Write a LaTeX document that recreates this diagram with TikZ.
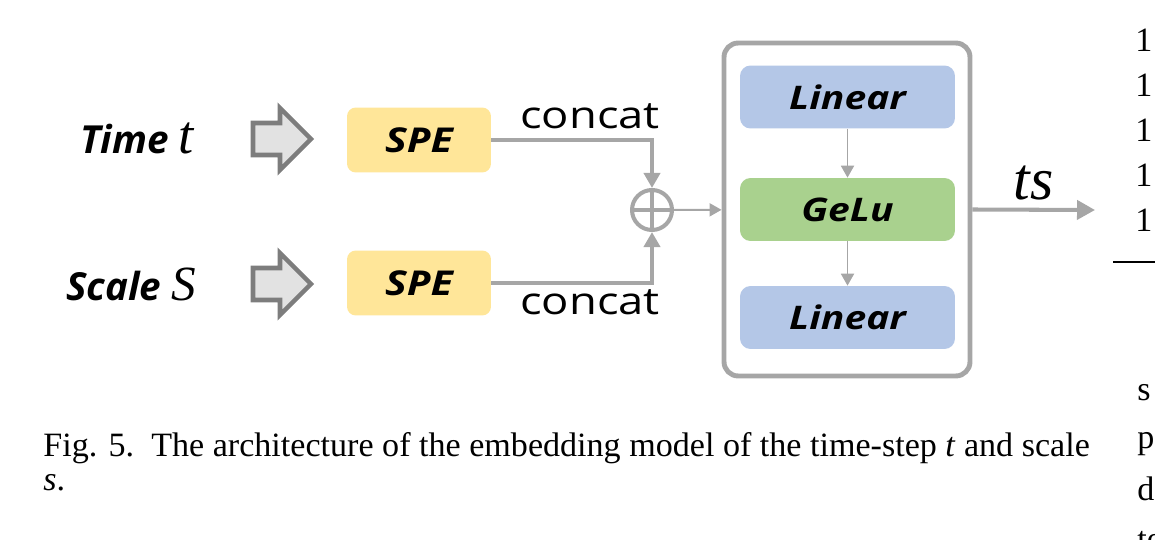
\documentclass[tikz,border=0pt]{standalone}
\usepackage{fontspec}
\setmainfont{Liberation Serif}
\setsansfont{Open Sans}
\newfontfamily\labfont{Open Sans}[FakeStretch=1.2]
\usetikzlibrary{arrows.meta, positioning, calc}
\definecolor{spefill}{RGB}{255,230,153}
\definecolor{linfill}{RGB}{180,199,231}
\definecolor{gelufill}{RGB}{169,209,142}
\definecolor{linegray}{RGB}{166,166,166}
\definecolor{arrowgray}{RGB}{125,125,125}
\definecolor{arrowfill}{RGB}{226,226,226}

\begin{document}
\begin{tikzpicture}[
  x=0.02cm, y=-0.02cm,
  inlabel/.style={font=\fontsize{22}{24}\selectfont\sffamily\bfseries\itshape},
  spebox/.style={fill=spefill, rounded corners=5pt, minimum width=2.88cm,
                 minimum height=1.3cm, inner sep=0pt,
                 font=\fontsize{19.5}{22}\selectfont\labfont\bfseries\itshape},
  layer/.style={rounded corners=6pt, minimum width=4.3cm,
                minimum height=1.26cm, inner sep=0pt,
                font=\fontsize{18.5}{22}\selectfont\labfont\bfseries\itshape},
  hollow/.style={draw=arrowgray, fill=arrowfill, line width=2.6pt,
                 line join=miter},
  wire/.style={draw=linegray, line width=2.3pt},
  thinarrow/.style={draw=linegray, line width=1.1pt,
                    -{Triangle[length=0.24cm, width=0.26cm]}},
  wlabel/.style={font=\fontsize{21.5}{24}\selectfont\labfont},
  textline/.style={anchor=base west, inner sep=0pt,
                   font=\fontsize{19.4}{22}\selectfont}
]
\useasboundingbox (0,0) rectangle (1155,540);
\clip (0,0) rectangle (1155,540);

% inputs
\node[inlabel] (time) at (137,138)
  {Time\ {\rmfamily\mdseries\itshape\fontsize{31}{31}\selectfont t}};
\node[inlabel] (scale) at (131,284)
  {Scale\ {\rmfamily\mdseries\itshape\fontsize{28}{30}\selectfont S}};
\coordinate (ha1) at (253,139);
\coordinate (ha2) at (253,284);
\foreach \ha in {ha1,ha2}
  \draw[hollow] (\ha) ++(0,-16) -- ++(27,0) -- ++(0,-15) -- ++(31,31)
    -- ++(-31,31) -- ++(0,-15) -- ++(-27,0) -- cycle;
\node[spebox] (spe1) at (419,140) {SPE};
\node[spebox] (spe2) at (419,283) {SPE};

% concat
\node[circle, draw=linegray, line width=2.3pt, minimum size=0.8cm,
  path picture={\draw[linegray, line width=2.3pt]
    (path picture bounding box.north) -- (path picture bounding box.south)
    (path picture bounding box.west) -- (path picture bounding box.east);}]
  (plus) at (652,210) {};
\draw[wire, -{Triangle[length=0.3cm, width=0.32cm]}] (spe1.east) -| (plus.north);
\draw[wire, -{Triangle[length=0.3cm, width=0.32cm]}] (spe2.east) -| (plus.south);
\node[wlabel] (cc1) at (590,116) {concat};
\node[wlabel] (cc2) at (590,302) {concat};

% mlp block
\node[draw=linegray, line width=2.8pt, rounded corners=8pt, fill=white,
  minimum width=4.92cm, minimum height=6.66cm] (mlp) at (847,209.5) {};
\node[layer, fill=linfill] (lin1) at (847.5,97) {Linear};
\node[layer, fill=gelufill] (gelu) at (847.5,209.5) {GeLu};
\node[layer, fill=linfill] (lin2) at (847.5,317.5) {Linear};
\draw[thinarrow] (lin1) -- (gelu);
\draw[thinarrow] (gelu) -- (lin2);
\draw[thinarrow] (plus) -- (mlp);

% output
\coordinate (out) at (1095,210);
\draw[wire, -{Triangle[length=0.36cm, width=0.38cm]}] (mlp.east) -- (out)
  node[midway, above=1pt, font=\fontsize{34}{34}\selectfont\rmfamily\itshape]
  (ts) {ts};

% caption
\node[textline] (cap1) at (43,456)
  {Fig. 5.\ \ The architecture of the embedding model of the time-step
   \textit{t} and scale};
\node[textline] (cap2) at (43,490) {\textit{s}.};

% next column
\foreach \yy in {52,97,142,187,232}
  \node[textline] at (1135,\yy) {1};
\draw[line width=1.2pt] (1113,262) -- (1155,262);
\node[textline] (c1) at (1137,400) {s};
\node[textline] (c2) at (1137,448) {p};
\node[textline] (c3) at (1137,500) {d};
\node[textline] (c4) at (1137,550) {te};
\end{tikzpicture}
\end{document}
